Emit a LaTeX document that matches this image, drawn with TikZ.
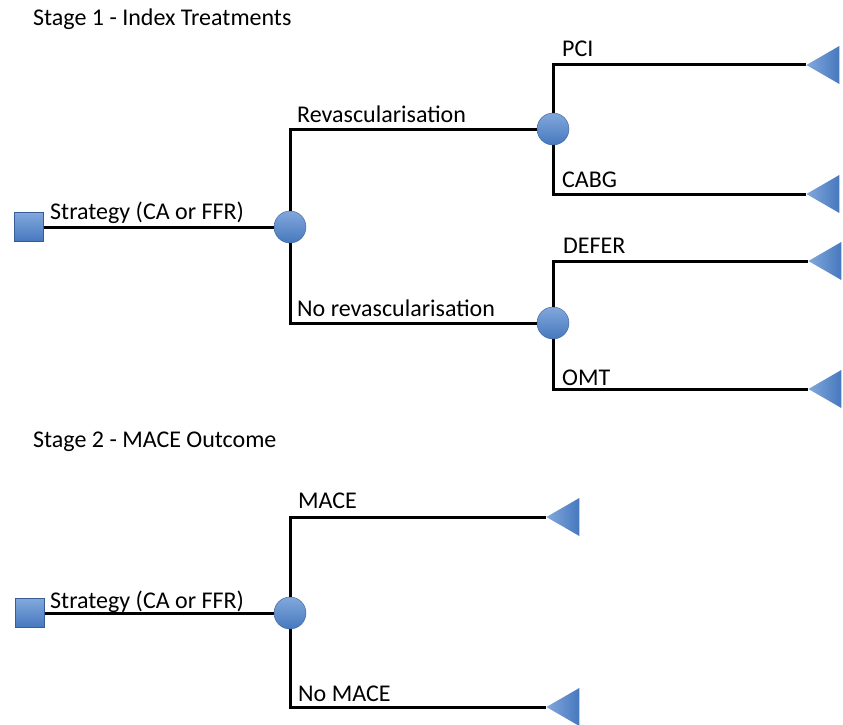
\documentclass[tikz,border=0pt]{standalone}
\usepackage{fontspec}
\setmainfont{Carlito}
\usepackage{tikz}
\definecolor{treeblue}{RGB}{70,120,190}
\definecolor{treelight}{RGB}{130,168,220}
\definecolor{treeedge}{RGB}{56,93,150}
\usetikzlibrary{shapes.geometric}

\begin{document}
\begin{tikzpicture}[x=1pt, y=-1pt,
  dnode/.style={rectangle, draw=treeedge, thin, top color=treelight,
                bottom color=treeblue, minimum size=29pt, inner sep=0pt},
  cnode/.style={circle, draw=treeedge, thin, top color=treelight,
                bottom color=treeblue, minimum size=32pt, inner sep=0pt},
  tnode/.style={isosceles triangle, isosceles triangle apex angle=60,
                shape border rotate=180, draw=none, left color=treelight,
                right color=treeblue, minimum height=33pt, inner sep=0pt,
                anchor=apex},
  branch/.style={line width=3pt, black},
  lbl/.style={font=\fontsize{24}{28}\selectfont, anchor=base west, inner sep=0pt}
]
\useasboundingbox (0,0) rectangle (843,725);

% Stage 1
\node[lbl] (title1) at (33,26) {Stage 1 - Index Treatments};

\node[dnode] (s1)    at (29,227)  {};
\node[cnode] (c1)    at (290,227) {};
\node[cnode] (rev)   at (553,129) {};
\node[cnode] (norev) at (553,323) {};
\node[tnode] (pci)   at (806,65)  {};
\node[tnode] (cabg)  at (806,194) {};
\node[tnode] (defer) at (808,261) {};
\node[tnode] (omt)   at (808,389) {};

\draw[branch] (s1) -- (c1);
\draw[branch] (c1.north) |- (rev.west);
\draw[branch] (c1.south) |- (norev.west);
\draw[branch] (rev.north) |- (pci.apex);
\draw[branch] (rev.south) |- (cabg.apex);
\draw[branch] (norev.north) |- (defer.apex);
\draw[branch] (norev.south) |- (omt.apex);

\node[lbl] (ls1)    at (50,219)  {Strategy (CA or FFR)};
\node[lbl] (lrev)   at (297,122) {Revascularisation};
\node[lbl] (lnorev) at (297,316) {No revascularisation};
\node[lbl] (lpci)   at (562,57)  {PCI};
\node[lbl] (lcabg)  at (562,187) {CABG};
\node[lbl] (ldefer) at (563,253) {DEFER};
\node[lbl] (lomt)   at (562,385) {OMT};

% Stage 2
\node[lbl] (title2) at (33,447) {Stage 2 - MACE Outcome};

\node[dnode] (s2)     at (30,613)  {};
\node[cnode] (c2)     at (290,613) {};
\node[tnode] (mace)   at (546,517) {};
\node[tnode] (nomace) at (546,707) {};

\draw[branch] (s2) -- (c2);
\draw[branch] (c2.north) |- (mace.apex);
\draw[branch] (c2.south) |- (nomace.apex);

\node[lbl] (ls2)     at (50,608)  {Strategy (CA or FFR)};
\node[lbl] (lmace)   at (298,508) {MACE};
\node[lbl] (lnomace) at (298,701) {No MACE};
\end{tikzpicture}
\end{document}
